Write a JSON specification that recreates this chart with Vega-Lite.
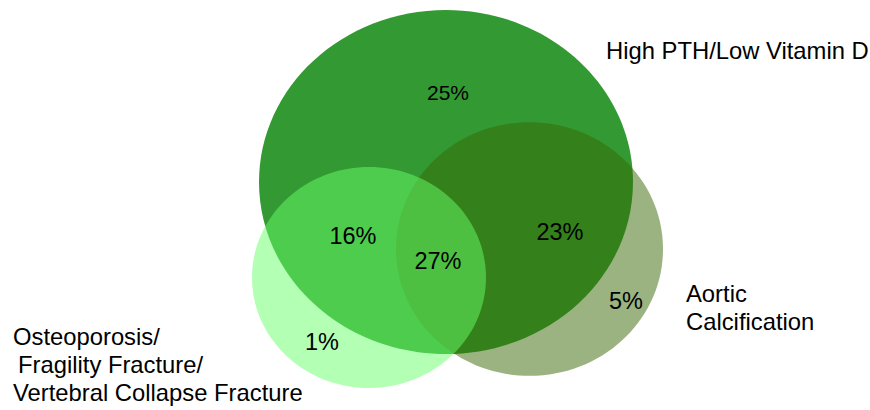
{
  "$schema": "https://vega.github.io/schema/vega-lite/v6.json",
  "width": 870,
  "height": 410,
  "autosize": {"type": "none"},
  "padding": 0,
  "background": "white",
  "config": {"view": {"stroke": null}},
  "datasets": {
    "sets": [
      {"set": "High PTH/Low Vitamin D", "cx": 446, "cy": 228, "r": 187},
      {"set": "Aortic Calcification", "cx": 529.5, "cy": 161, "r": 133.5},
      {"set": "Osteoporosis", "cx": 369, "cy": 132.5, "r": 117}
    ],
    "pct": [
      {"label": "25%", "x": 448, "y": 316, "fs": 21},
      {"label": "16%", "x": 353, "y": 173, "fs": 23.5},
      {"label": "27%", "x": 438, "y": 148, "fs": 23.5},
      {"label": "23%", "x": 560, "y": 177, "fs": 23.5},
      {"label": "5%", "x": 626, "y": 108, "fs": 23.5},
      {"label": "1%", "x": 322, "y": 67, "fs": 23.5}
    ],
    "names": [
      {"label": "High PTH/Low Vitamin D", "x": 606, "y": 351},
      {"label": "Aortic\nCalcification", "x": 686, "y": 108},
      {"label": "Osteoporosis/", "x": 13, "y": 65},
      {"label": "Fragility Fracture/", "x": 18, "y": 37},
      {"label": "Vertebral Collapse Fracture", "x": 13, "y": 9}
    ]
  },
  "layer": [
    {
      "data": {"name": "sets"},
      "mark": {"type": "point", "filled": true, "strokeWidth": 0, "opacity": 1},
      "encoding": {
        "x": {"field": "cx", "type": "quantitative", "scale": {"domain": [0, 870], "nice": false}, "axis": null},
        "y": {"field": "cy", "type": "quantitative", "scale": {"domain": [0, 410], "nice": false}, "axis": null},
        "size": {"field": "r", "type": "quantitative", "scale": {"type": "pow", "exponent": 2, "domain": [0, 200], "range": [0, 160000], "zero": true, "nice": false}, "legend": null},
        "shape": {
          "field": "set", "type": "nominal",
          "scale": {
            "domain": ["High PTH/Low Vitamin D", "Aortic Calcification", "Osteoporosis"],
            "range": [
              "M-1,0C-1,-0.5081,-0.5523,-0.92,0,-0.92C0.5523,-0.92,1,-0.5081,1,0C1,0.5081,0.5523,0.92,0,0.92C-0.5523,0.92,-1,0.5081,-1,0Z",
              "M-1,0C-1,-0.5247,-0.5523,-0.95,0,-0.95C0.5523,-0.95,1,-0.5247,1,0C1,0.5247,0.5523,0.95,0,0.95C-0.5523,0.95,-1,0.5247,-1,0Z",
              "M-1,0C-1,-0.5214,-0.5523,-0.944,0,-0.944C0.5523,-0.944,1,-0.5214,1,0C1,0.5214,0.5523,0.944,0,0.944C-0.5523,0.944,-1,0.5214,-1,0Z"
            ]
          },
          "legend": null
        },
        "color": {
          "field": "set", "type": "nominal",
          "scale": {
            "domain": ["High PTH/Low Vitamin D", "Aortic Calcification", "Osteoporosis"],
            "range": ["rgb(51,153,51)", "rgba(53,103,3,0.5)", "rgba(103,255,103,0.5)"]
          },
          "legend": null
        }
      }
    },
    {
      "data": {"name": "pct"},
      "mark": {"type": "text", "align": "center", "baseline": "middle", "font": "Liberation Sans", "color": "black"},
      "encoding": {
        "x": {"field": "x", "type": "quantitative"},
        "y": {"field": "y", "type": "quantitative"},
        "text": {"field": "label", "type": "nominal"},
        "size": {"field": "fs", "type": "quantitative", "scale": null}
      }
    },
    {
      "data": {"name": "names"},
      "mark": {"type": "text", "align": "left", "baseline": "alphabetic", "font": "Liberation Sans", "fontSize": 23.8, "lineBreak": "\n", "lineHeight": 28, "color": "black"},
      "encoding": {
        "x": {"field": "x", "type": "quantitative"},
        "y": {"field": "y", "type": "quantitative"},
        "text": {"field": "label", "type": "nominal"}
      }
    }
  ]
}
